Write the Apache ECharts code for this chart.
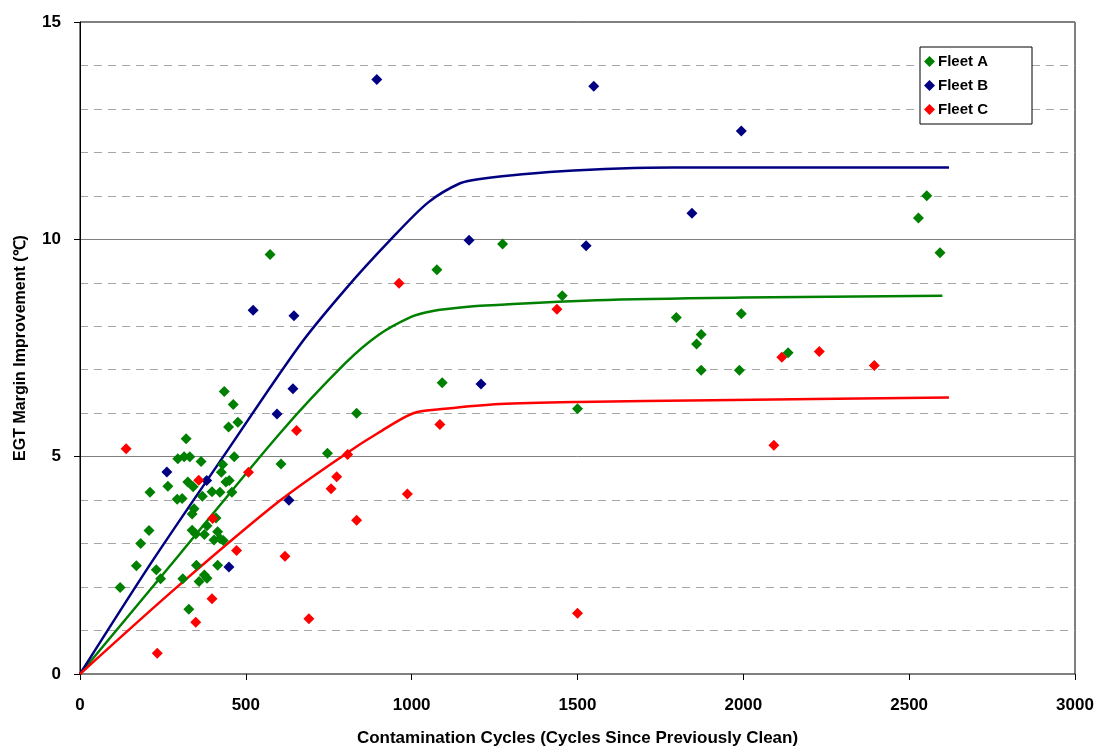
<!DOCTYPE html>
<html>
<head>
<meta charset="utf-8">
<script src="https://cdn.jsdelivr.net/npm/echarts@6/dist/echarts.min.js"></script>
<style>
html,body{margin:0;padding:0;background:#fff;}
#chart{width:1098px;height:748px;}
</style>
</head>
<body>
<div id="chart"></div>
<script>
var seriesNames = ['Fleet A', 'Fleet B', 'Fleet C'];
var xTicks = [0, 500, 1000, 1500, 2000, 2500, 3000];
var yTicks = [0, 5, 10, 15];

var fleetA = [[121,1.99],[170,2.49],[183,3.0],[208,3.30],[211,4.18],[230,2.40],[243,2.19],[265,4.32],[293,4.02],[295,4.95],[308,4.04],[310,2.19],[314,5.0],[320,5.41],[325,4.42],[328,1.49],[331,5.0],[338,3.68],[338,3.31],[341,4.31],[344,3.80],[349,3.22],[351,2.50],[359,2.13],[365,4.89],[369,4.09],[375,3.21],[375,2.28],[383,3.41],[383,2.20],[398,4.19],[404,3.08],[410,3.59],[415,3.27],[415,2.50],[422,4.18],[422,3.12],[426,4.64],[430,4.82],[432,3.07],[435,6.50],[440,4.42],[448,5.68],[450,4.45],[458,4.18],[462,6.20],[465,5.0],[476,5.79],[573,9.65],[606,4.83],[746,5.08],[834,6.0],[1076,9.30],[1092,6.70],[1274,9.89],[1454,8.70],[1500,6.10],[1798,8.20],[1859,7.59],[1873,7.81],[1873,6.99],[1988,6.99],[1994,8.29],[2135,7.39],[2528,10.49],[2553,11.0],[2593,9.69]];

var fleetB = [[262,4.65],[382,4.45],[449,2.46],[522,8.37],[594,5.98],[630,4.0],[642,6.56],[645,8.24],[895,13.68],[1173,9.98],[1209,6.67],[1526,9.85],[1549,13.52],[1845,10.6],[1994,12.49]];

var fleetC = [[139,5.18],[233,0.48],[349,1.19],[358,4.46],[398,1.73],[400,3.58],[472,2.84],[508,4.64],[618,2.71],[653,5.60],[690,1.27],[757,4.26],[774,4.54],[807,5.05],[834,3.54],[962,8.99],[987,4.14],[1085,5.74],[1438,8.39],[1500,1.40],[2092,5.26],[2116,7.29],[2229,7.42],[2395,7.10]];

var trendA = [[0,0],[300,2.75],[603,5.54],[800,7.15],[900,7.8],[1000,8.22],[1050,8.33],[1100,8.39],[1206,8.47],[1556,8.6],[2000,8.66],[2600,8.70]];
var trendB = [[0,0],[214,2.55],[432,5.0],[663,7.57],[800,8.85],[935,9.98],[1050,10.85],[1146,11.29],[1206,11.39],[1439,11.56],[1788,11.65],[2620,11.65]];
var trendC = [[0,0],[300,2.05],[603,3.99],[804,5.08],[900,5.55],[1005,6.0],[1100,6.1],[1266,6.21],[1500,6.26],[1906,6.30],[2620,6.36]];

var colors = ['#008000', '#000080', '#FF0000'];
var font = 'Liberation Sans, Arial, sans-serif';

var chart = echarts.init(document.getElementById('chart'));

function scatter(name, data, color) {
  return {
    name: name, type: 'scatter', data: data, symbol: 'diamond', symbolSize: 11,
    itemStyle: { color: color, opacity: 1 }, z: 5
  };
}
function trend(name, data, color) {
  return {
    name: name, type: 'line', data: data, smooth: 0.3, showSymbol: false, symbol: 'none',
    lineStyle: { color: color, width: 2.5 }, z: 3, silent: true
  };
}

chart.setOption({
  animation: false,
  backgroundColor: '#fff',
  grid: { left: 80, top: 22, right: 23, bottom: 74, containLabel: false, outerBoundsMode: 'none',
    show: true, borderColor: '#000', borderWidth: 1, backgroundColor: 'transparent' },
  legend: {
    data: seriesNames.map(function (n) { return { name: n, icon: 'diamond' }; }),
    orient: 'vertical', left: 920, top: 47,
    padding: [7, 44, 7, 4], itemGap: 9, itemWidth: 11, itemHeight: 11,
    backgroundColor: '#fff', borderColor: '#000', borderWidth: 1, borderRadius: 0,
    textStyle: { fontFamily: font, fontWeight: 'bold', fontSize: 15, color: '#000', padding: [0,0,0,-2] }
  },
  xAxis: {
    type: 'value', min: xTicks[0], max: xTicks[xTicks.length - 1], interval: 500,
    name: 'Contamination Cycles (Cycles Since Previously Clean)',
    nameLocation: 'middle', nameGap: 56,
    nameTextStyle: { fontFamily: font, fontWeight: 'bold', fontSize: 17, color: '#000' },
    axisLine: { show: true, onZero: false, lineStyle: { color: '#808080', width: 1 } },
    axisTick: { show: true, inside: false, length: 6, lineStyle: { color: '#000' } },
    axisLabel: { fontFamily: font, fontWeight: 'bold', fontSize: 17, color: '#000', margin: 23,
      formatter: function (v) { return String(v); } },
    splitLine: { show: false }
  },
  yAxis: {
    type: 'value', min: yTicks[0], max: yTicks[yTicks.length - 1], interval: 5,
    name: 'EGT Margin Improvement (\u2103)',
    nameLocation: 'middle', nameGap: 51,
    nameTextStyle: { fontFamily: font, fontWeight: 'bold', fontSize: 16, color: '#000' },
    axisLine: { show: true, onZero: false, lineStyle: { color: '#000', width: 1 } },
    axisTick: { show: true, inside: false, length: 6, lineStyle: { color: '#000' } },
    axisLabel: { fontFamily: font, fontWeight: 'bold', fontSize: 17, color: '#000', margin: 19 },
    splitLine: { show: true, lineStyle: { color: '#808080', width: 1 } },
    minorTick: { show: false, splitNumber: 5 },
    minorSplitLine: { show: true, lineStyle: { color: '#a6a6a6', width: 1, type: [8, 6] } }
  },
  series: [
    trend('trendA', trendA, colors[0]),
    trend('trendB', trendB, colors[1]),
    trend('trendC', trendC, colors[2]),
    scatter(seriesNames[0], fleetA, colors[0]),
    scatter(seriesNames[1], fleetB, colors[1]),
    scatter(seriesNames[2], fleetC, colors[2])
  ]
});
</script>
</body>
</html>
